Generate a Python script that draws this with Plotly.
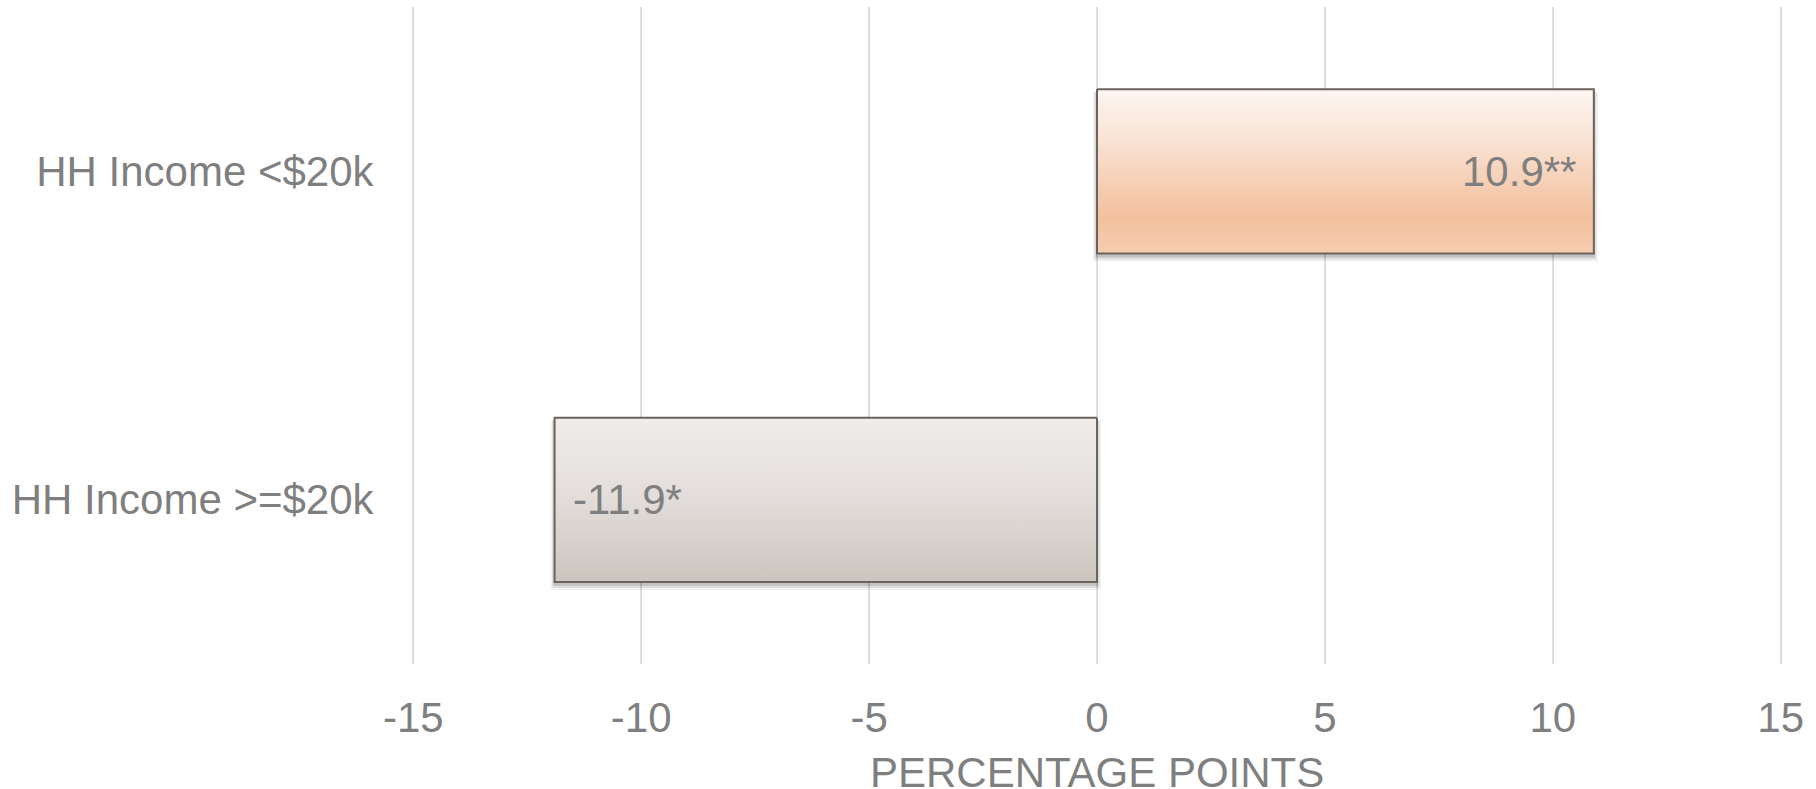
import plotly.graph_objects as go

# ---- data ----
categories = ["HH Income <$20k", "HH Income >=$20k"]
values = [10.9, -11.9]
significance = ["**", "*"]
x_ticks = [-15, -10, -5, 0, 5, 10, 15]
x_tick_labels = ["-15", "-10", "-5", "0", "5", "10", "15"]
x_title = "PERCENTAGE POINTS"

# ---- styling ----
FONT = "Liberation Sans, Arial, Helvetica, sans-serif"
TEXT_GREY = "#7f7f7f"
GRID_GREY = "#dedede"
BORDER = "#6c635d"
bar_gradients = [
    [[0.0, "#fdf6f1"], [0.3, "#f9e3d5"], [0.78, "#f3c09d"], [1.0, "#f6cdb1"]],
    [[0.0, "#f1edeb"], [0.5, "#e2ddda"], [1.0, "#ccc5be"]],
]

W, H = 1816, 789
M_L, M_R, M_T, M_B = 411, 33, 7, 125
X_RANGE = [-15.05, 15.05]      # a hair wider so the edge gridlines are kept
Y_RANGE = [1.5, -0.5]          # reversed so the first category sits on top
HALF = 0.25                    # half bar thickness in category units

# data units per screen pixel, used for the soft drop shadow
ux = (X_RANGE[1] - X_RANGE[0]) / (W - M_L - M_R)
uy = abs(Y_RANGE[0] - Y_RANGE[1]) / (H - M_T - M_B)

fig = go.Figure()


def rect(x0, x1, y0, y1):
    return [x0, x1, x1, x0, x0], [y0, y0, y1, y1, y0]


# drop shadows (layered translucent rectangles to fake a blur)
shadow_layers = [(4.0, 3.0, 8.0, 0.05), (2.5, 2.5, 6.0, 0.08), (1.2, 2.0, 4.0, 0.12)]
for i, v in enumerate(values):
    lo, hi = min(0, v), max(0, v)
    for spread, dy_top, dy_bot, alpha in shadow_layers:
        xs, ys = rect(lo - spread * ux, hi + spread * ux,
                      i - HALF + dy_top * uy, i + HALF + dy_bot * uy)
        fig.add_trace(go.Scatter(
            x=xs, y=ys, mode="lines", fill="toself",
            fillcolor=f"rgba(0,0,0,{alpha})", line=dict(width=0),
            hoverinfo="skip", showlegend=False))

# bars with a vertical gradient fill
for i, v in enumerate(values):
    xs, ys = rect(0, v, i - HALF, i + HALF)
    fig.add_trace(go.Scatter(
        x=xs, y=ys, mode="lines", fill="toself",
        fillgradient=dict(type="vertical", colorscale=bar_gradients[i],
                          start=i - HALF, stop=i + HALF),
        line=dict(color=BORDER, width=2),
        name=categories[i], hoverinfo="skip", showlegend=False))

# value labels inside the bar ends
for i, v in enumerate(values):
    fig.add_annotation(
        x=v, y=i, xref="x", yref="y",
        text=f"{v:.1f}{significance[i]}",
        showarrow=False,
        xanchor="right" if v > 0 else "left",
        xshift=-16 if v > 0 else 16,
        yanchor="middle",
        font=dict(family=FONT, size=42, color=TEXT_GREY))

# x-axis title, placed under the tick labels
fig.add_annotation(
    x=0.5, y=0, xref="paper", yref="paper",
    text=x_title, showarrow=False,
    xanchor="center", yanchor="top", yshift=-83,
    font=dict(family=FONT, size=42, color=TEXT_GREY))

fig.update_layout(
    width=W, height=H,
    margin=dict(l=M_L, r=M_R, t=M_T, b=M_B, pad=0),
    paper_bgcolor="white", plot_bgcolor="white",
    font=dict(family=FONT, size=42, color=TEXT_GREY),
    showlegend=False,
)
fig.update_xaxes(
    range=X_RANGE, tickvals=x_ticks, ticktext=x_tick_labels,
    showgrid=True, gridcolor=GRID_GREY, gridwidth=2,
    zeroline=False, showline=False, automargin=False,
    ticks="outside", ticklen=17, tickcolor="rgba(0,0,0,0)",
    tickfont=dict(family=FONT, size=42, color=TEXT_GREY),
    fixedrange=True,
)
fig.update_yaxes(
    range=Y_RANGE, tickvals=list(range(len(categories))), ticktext=categories,
    showgrid=False, zeroline=False, showline=False, automargin=False,
    ticks="outside", ticklen=28, tickcolor="rgba(0,0,0,0)",
    tickfont=dict(family=FONT, size=42, color=TEXT_GREY),
    fixedrange=True,
)

fig.write_html("out.html", config={"displayModeBar": False})
